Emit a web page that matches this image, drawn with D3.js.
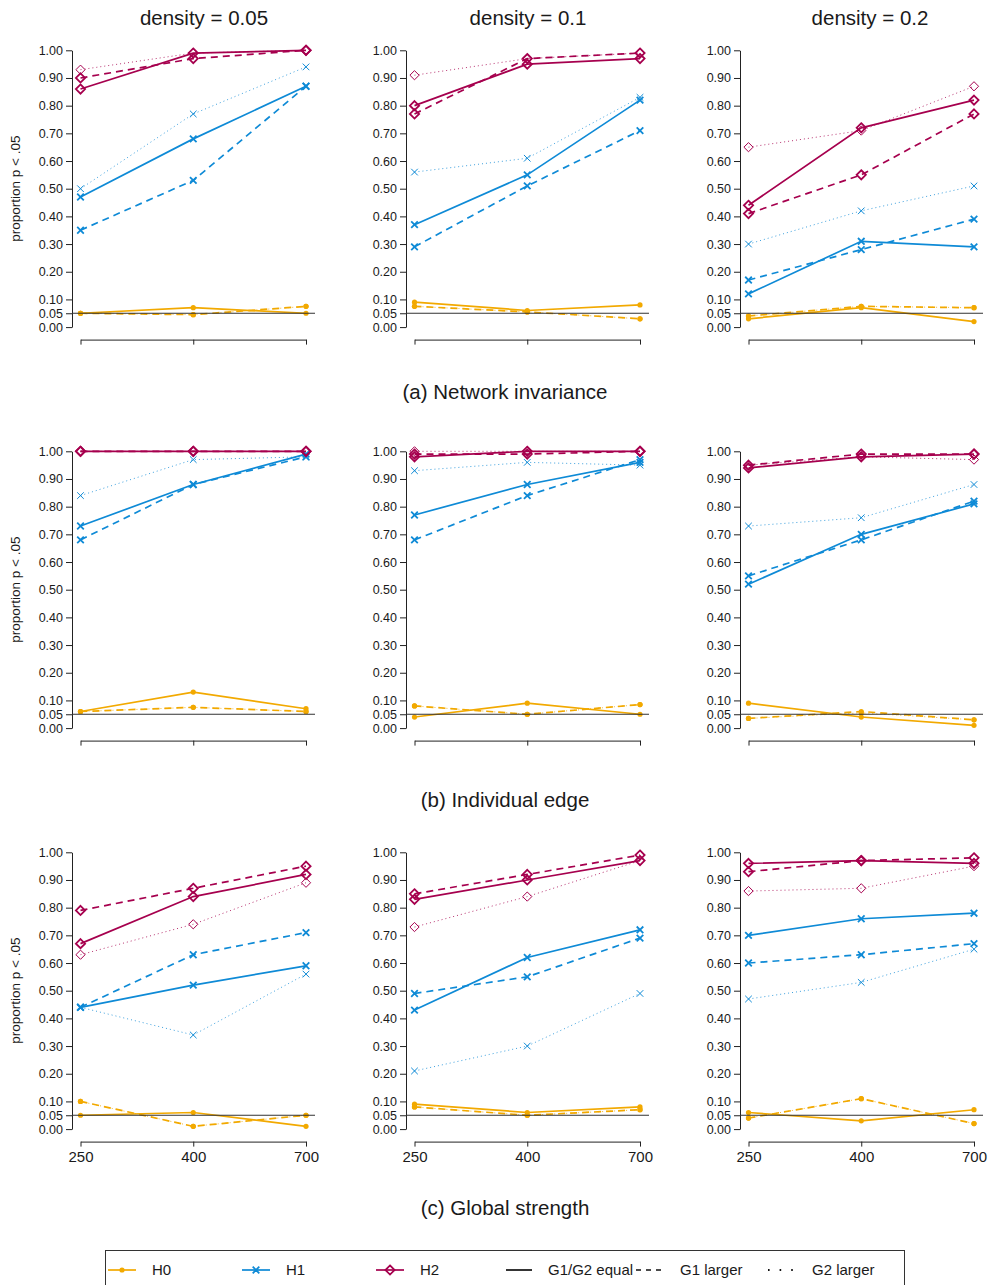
<!DOCTYPE html>
<html>
<head>
<meta charset="utf-8">
<script src="https://cdn.jsdelivr.net/npm/d3@7"></script>
<style>
  body { margin: 0; background: #fff; }
  text { font-family: "Liberation Sans", Arial, Helvetica, sans-serif; fill: #1a1a1a; }
</style>
</head>
<body>
<svg id="chart" width="988" height="1285"></svg>
<script>
// categories
const sampleSizes = ["250", "400", "700"];
const densities = ["density = 0.05", "density = 0.1", "density = 0.2"];
const measures = ["(a) Network invariance", "(b) Individual edge", "(c) Global strength"];
const hypotheses = ["H0", "H1", "H2"];
const conditions = ["G1/G2 equal", "G1 larger", "G2 larger"];
const yTicks = [0, 0.05, 0.1, 0.2, 0.3, 0.4, 0.5, 0.6, 0.7, 0.8, 0.9, 1.0];

// values: [density][condition][sample size]
const invH0 = [
  [[0.05, 0.07, 0.05], [0.05, 0.045, 0.075], [0.05, 0.045, 0.075]],
  [[0.09, 0.06, 0.08], [0.075, 0.055, 0.03], [0.075, 0.055, 0.03]],
  [[0.03, 0.07, 0.02], [0.04, 0.075, 0.07], [0.04, 0.075, 0.07]]
];
const invH1 = [
  [[0.47, 0.68, 0.87], [0.35, 0.53, 0.87], [0.50, 0.77, 0.94]],
  [[0.37, 0.55, 0.82], [0.29, 0.51, 0.71], [0.56, 0.61, 0.83]],
  [[0.12, 0.31, 0.29], [0.17, 0.28, 0.39], [0.30, 0.42, 0.51]]
];
const invH2 = [
  [[0.86, 0.99, 1.00], [0.90, 0.97, 1.00], [0.93, 0.99, 1.00]],
  [[0.80, 0.95, 0.97], [0.77, 0.97, 0.99], [0.91, 0.97, 0.99]],
  [[0.44, 0.72, 0.82], [0.41, 0.55, 0.77], [0.65, 0.71, 0.87]]
];

const edgeH0 = [
  [[0.06, 0.13, 0.07], [0.06, 0.075, 0.06], [0.06, 0.075, 0.06]],
  [[0.04, 0.09, 0.05], [0.08, 0.05, 0.085], [0.08, 0.05, 0.085]],
  [[0.09, 0.04, 0.01], [0.035, 0.06, 0.03], [0.035, 0.055, 0.03]]
];
const edgeH1 = [
  [[0.73, 0.88, 0.99], [0.68, 0.88, 0.98], [0.84, 0.97, 0.98]],
  [[0.77, 0.88, 0.96], [0.68, 0.84, 0.97], [0.93, 0.96, 0.95]],
  [[0.52, 0.70, 0.81], [0.55, 0.68, 0.82], [0.73, 0.76, 0.88]]
];
const edgeH2 = [
  [[1.00, 1.00, 1.00], [1.00, 1.00, 1.00], [1.00, 1.00, 1.00]],
  [[0.98, 1.00, 1.00], [0.99, 0.99, 1.00], [1.00, 1.00, 1.00]],
  [[0.94, 0.98, 0.99], [0.95, 0.99, 0.99], [0.95, 0.98, 0.97]]
];

const strH0 = [
  [[0.05, 0.06, 0.01], [0.10, 0.01, 0.05], [0.10, 0.01, 0.05]],
  [[0.09, 0.06, 0.08], [0.08, 0.05, 0.07], [0.08, 0.05, 0.07]],
  [[0.06, 0.03, 0.07], [0.04, 0.11, 0.02], [0.04, 0.11, 0.02]]
];
const strH1 = [
  [[0.44, 0.52, 0.59], [0.44, 0.63, 0.71], [0.44, 0.34, 0.56]],
  [[0.43, 0.62, 0.72], [0.49, 0.55, 0.69], [0.21, 0.30, 0.49]],
  [[0.70, 0.76, 0.78], [0.60, 0.63, 0.67], [0.47, 0.53, 0.65]]
];
const strH2 = [
  [[0.67, 0.84, 0.92], [0.79, 0.87, 0.95], [0.63, 0.74, 0.89]],
  [[0.83, 0.90, 0.97], [0.85, 0.92, 0.99], [0.73, 0.84, 0.97]],
  [[0.96, 0.97, 0.96], [0.93, 0.97, 0.98], [0.86, 0.87, 0.95]]
];

const rows = [[invH0, invH1, invH2], [edgeH0, edgeH1, edgeH2], [strH0, strH1, strH2]];

const colors = { H0: "#F2A900", H1: "#0E8AD6", H2: "#A6004E" };
const dashes = { "G1/G2 equal": null, "G1 larger": "7,5", "G2 larger": "1,3" };
const widths = { "G1/G2 equal": 1.7, "G1 larger": 1.7, "G2 larger": 1 };

const svg = d3.select("#chart");

// panel geometry
const colLeft = [72, 406, 740];
const rowTop = [50.3, 451.3, 852.3];
const plotH = 276.8;
const titleX = [204, 528, 870];
const captionY = [399, 807, 1215];

// marker shapes
function drawMarker(g, hyp, cond, color) {
  const w = cond === "G2 larger" ? 1 : 1.8;
  if (hyp === "H0") {
    g.append("circle").attr("r", 2.6).attr("fill", color);
  } else if (hyp === "H1") {
    g.append("path").attr("d", "M-3.3,-3.3L3.3,3.3M-3.3,3.3L3.3,-3.3")
      .attr("stroke", color).attr("stroke-width", w).attr("fill", "none");
  } else {
    g.append("path").attr("d", "M0,-4.6L4.6,0L0,4.6L-4.6,0Z")
      .attr("stroke", color).attr("stroke-width", w).attr("fill", "none");
  }
}

// column titles
densities.forEach((d, c) => {
  svg.append("text").attr("x", titleX[c]).attr("y", 25)
    .attr("text-anchor", "middle").style("font-size", "20.5px").text(d);
});

rows.forEach((rowData, r) => {
  const y = d3.scaleLinear().domain([0, 1]).range([rowTop[r] + plotH, rowTop[r]]);

  // row caption
  svg.append("text").attr("x", 505).attr("y", captionY[r])
    .attr("text-anchor", "middle").style("font-size", "20.5px").text(measures[r]);

  densities.forEach((dens, c) => {
    const x = d3.scalePoint().domain(sampleSizes).range([colLeft[c] + 8.5, colLeft[c] + 234]);
    const g = svg.append("g");

    // y axis
    const yAxis = g.append("g").attr("transform", `translate(${colLeft[c]},0)`)
      .call(d3.axisLeft(y).tickValues(yTicks).tickFormat(d3.format(".2f"))
        .tickSize(6).tickSizeOuter(0).tickPadding(3));
    yAxis.selectAll("text").style("font-size", "12.5px");

    // x axis
    const xAxis = g.append("g").attr("transform", `translate(0,${y(0) + 12.5})`)
      .call(d3.axisBottom(x).tickSize(5).tickSizeOuter(0).tickPadding(5));
    xAxis.selectAll("text").style("font-size", "15px").style("display", r === 2 ? null : "none");
    g.selectAll(".domain, .tick line").attr("stroke", "#222");

    if (c === 0) {
      const mid = (y(0) + y(1)) / 2;
      svg.append("text").attr("transform", `translate(20,${mid}) rotate(-90)`)
        .attr("text-anchor", "middle").style("font-size", "13.5px").text("proportion p < .05");
    }

    // series
    hypotheses.forEach((hyp, h) => {
      const color = colors[hyp];
      conditions.forEach((cond, k) => {
        const vals = rowData[h][c][k];
        const pts = sampleSizes.map((s, i) => [x(s), y(vals[i])]);
        g.append("path").attr("d", d3.line()(pts))
          .attr("fill", "none").attr("stroke", color)
          .attr("stroke-width", widths[cond])
          .attr("stroke-dasharray", dashes[cond])
          .attr("opacity", cond === "G2 larger" ? 0.8 : 1);
        pts.forEach(p => {
          const m = g.append("g").attr("transform", `translate(${p[0]},${p[1]})`);
          drawMarker(m, hyp, cond, color);
        });
      });
    });

    // reference line at .05
    g.append("line").attr("x1", colLeft[c]).attr("x2", x.range()[1] + 9)
      .attr("y1", y(0.05)).attr("y2", y(0.05))
      .attr("stroke", "#333").attr("stroke-width", 1);
  });
});

// legend
const lg = svg.append("g");
lg.append("rect").attr("x", 105.5).attr("y", 1250.5).attr("width", 799).attr("height", 45)
  .attr("fill", "none").attr("stroke", "#333").attr("stroke-width", 1);
const legY = 1270;
const hypX = [108, 242, 376];
hypotheses.forEach((hyp, i) => {
  lg.append("line").attr("x1", hypX[i]).attr("x2", hypX[i] + 28).attr("y1", legY).attr("y2", legY)
    .attr("stroke", colors[hyp]).attr("stroke-width", 1.7);
  const m = lg.append("g").attr("transform", `translate(${hypX[i] + 14},${legY})`);
  drawMarker(m, hyp, "G1/G2 equal", colors[hyp]);
  lg.append("text").attr("x", hypX[i] + 44).attr("y", legY + 5).style("font-size", "15px").text(hyp);
});
const condX = [506, 636, 768];
const condTextX = [548, 680, 812];
conditions.forEach((cond, i) => {
  lg.append("line").attr("x1", condX[i]).attr("x2", condX[i] + 26).attr("y1", legY).attr("y2", legY)
    .attr("stroke", "#111").attr("stroke-width", cond === "G2 larger" ? 1.8 : 1.7)
    .attr("stroke-dasharray", cond === "G1 larger" ? "5,5" : cond === "G2 larger" ? "1.6,10" : null);
  lg.append("text").attr("x", condTextX[i]).attr("y", legY + 5).style("font-size", "15px").text(cond);
});
</script>
</body>
</html>
